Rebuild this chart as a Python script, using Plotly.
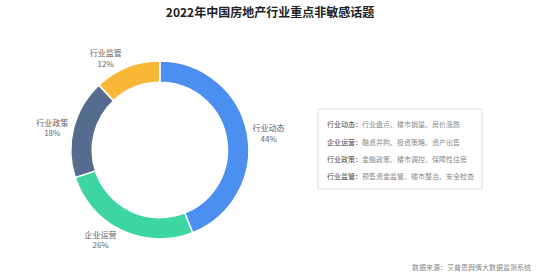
import plotly.graph_objects as go

categories = ["行业动态", "企业运营", "行业政策", "行业监管"]
values = [44, 26, 18, 12]
colors = ["#4b8ff0", "#3dd6a1", "#566c8e", "#f8b735"]

legend_keys = ["行业动态：", "企业运营：", "行业政策：", "行业监管："]
legend_descs = ["行业盘点、楼市销量、房价涨跌",
                "融资并购、投资策略、资产出售",
                "金融政策、楼市调控、保障性住房",
                "预售资金监管、楼市整治、安全检查"]

title_text = "2022年中国房地产行业重点非敏感话题"
source_text = "数据来源：艾普思舆情大数据监测系统"

W, H = 540, 276
font_family = "Noto Sans CJK SC"

fig = go.Figure()
fig.add_trace(go.Pie(
    labels=categories,
    values=values,
    hole=0.76,
    sort=False,
    direction="clockwise",
    rotation=0,
    marker=dict(colors=colors, line=dict(color="white", width=1.5)),
    textposition="outside",
    texttemplate="%{label}<br>%{percent:.0%}",
    textfont=dict(size=8, color="#666666", family=font_family),
    showlegend=False,
    domain=dict(x=[0.131, 0.461], y=[0.134, 0.779]),
    hoverinfo="label+percent",
))

# legend box
fig.add_shape(type="rect", xref="paper", yref="paper",
              x0=318 / W, x1=482 / W, y0=1 - 189 / H, y1=1 - 109 / H,
              line=dict(color="#dddddd", width=1), fillcolor="white")

ys = [124, 142, 159, 176]
for k, d, yy in zip(legend_keys, legend_descs, ys):
    fig.add_annotation(
        xref="paper", yref="paper", x=325 / W, y=1 - yy / H,
        xanchor="left", yanchor="middle", showarrow=False,
        text=f"<span style='color:#444444'>{k}</span><span style='color:#8a8a8a'>{d}</span>",
        font=dict(size=7, family=font_family),
    )

fig.add_annotation(
    xref="paper", yref="paper", x=533 / W, y=1 - 267 / H,
    xanchor="right", yanchor="middle", showarrow=False,
    text=source_text, font=dict(size=7, color="#888888", family=font_family),
)

fig.update_layout(
    width=W, height=H,
    margin=dict(l=0, r=0, t=0, b=0),
    paper_bgcolor="white", plot_bgcolor="white",
    title=dict(text=f"<b>{title_text}</b>", x=0.5, xanchor="center",
               y=1 - 13 / H, yanchor="middle",
               font=dict(size=12, color="#222222", family=font_family)),
    font=dict(family=font_family),
)

fig.write_html("out.html")
